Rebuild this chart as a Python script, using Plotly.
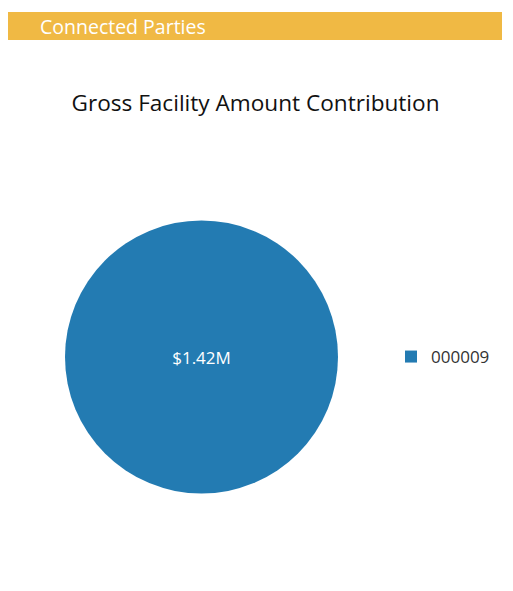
import plotly.graph_objects as go

labels = ["000009"]
values = [1420000]
header_text = "Connected Parties"
title_text = "Gross Facility Amount Contribution"

W, H = 497, 575
FONT = "Segoe UI, Open Sans, sans-serif"

fig = go.Figure(go.Pie(
    labels=labels,
    values=values,
    texttemplate="$%{value:.3s}",
    textposition="inside",
    insidetextfont=dict(color="white", size=17, family=FONT),
    marker=dict(colors=["#237BB2"]),
    sort=False,
    hoverinfo="label+value",
    domain=dict(x=[57 / W, 330 / W], y=[1 - 486 / H, 1 - 212 / H]),
    showlegend=True,
))

fig.update_layout(
    width=W, height=H,
    margin=dict(l=0, r=0, t=0, b=0),
    paper_bgcolor="white",
    font=dict(family=FONT, color="#333333"),
    title=dict(text=title_text, x=247.5 / W, xanchor="center", y=1 - 95 / H, yanchor="middle",
               font=dict(size=22.6, color="#111111", family=FONT)),
    legend=dict(x=383 / W, xanchor="left", y=1 - 349 / H, yanchor="middle",
                font=dict(size=17, color="#333333", family=FONT),
                bgcolor="rgba(0,0,0,0)"),
    shapes=[dict(type="rect", xref="paper", yref="paper",
                 x0=0, x1=494 / W, y0=1 - 32 / H, y1=1 - 4 / H,
                 fillcolor="#F0B944", line=dict(width=0), layer="below")],
    annotations=[dict(text=header_text, xref="paper", yref="paper",
                      x=29.5 / W, xanchor="left", y=1 - 19 / H, yanchor="middle",
                      showarrow=False, font=dict(size=19.5, color="white", family=FONT))],
)

fig.write_html("out.html")
